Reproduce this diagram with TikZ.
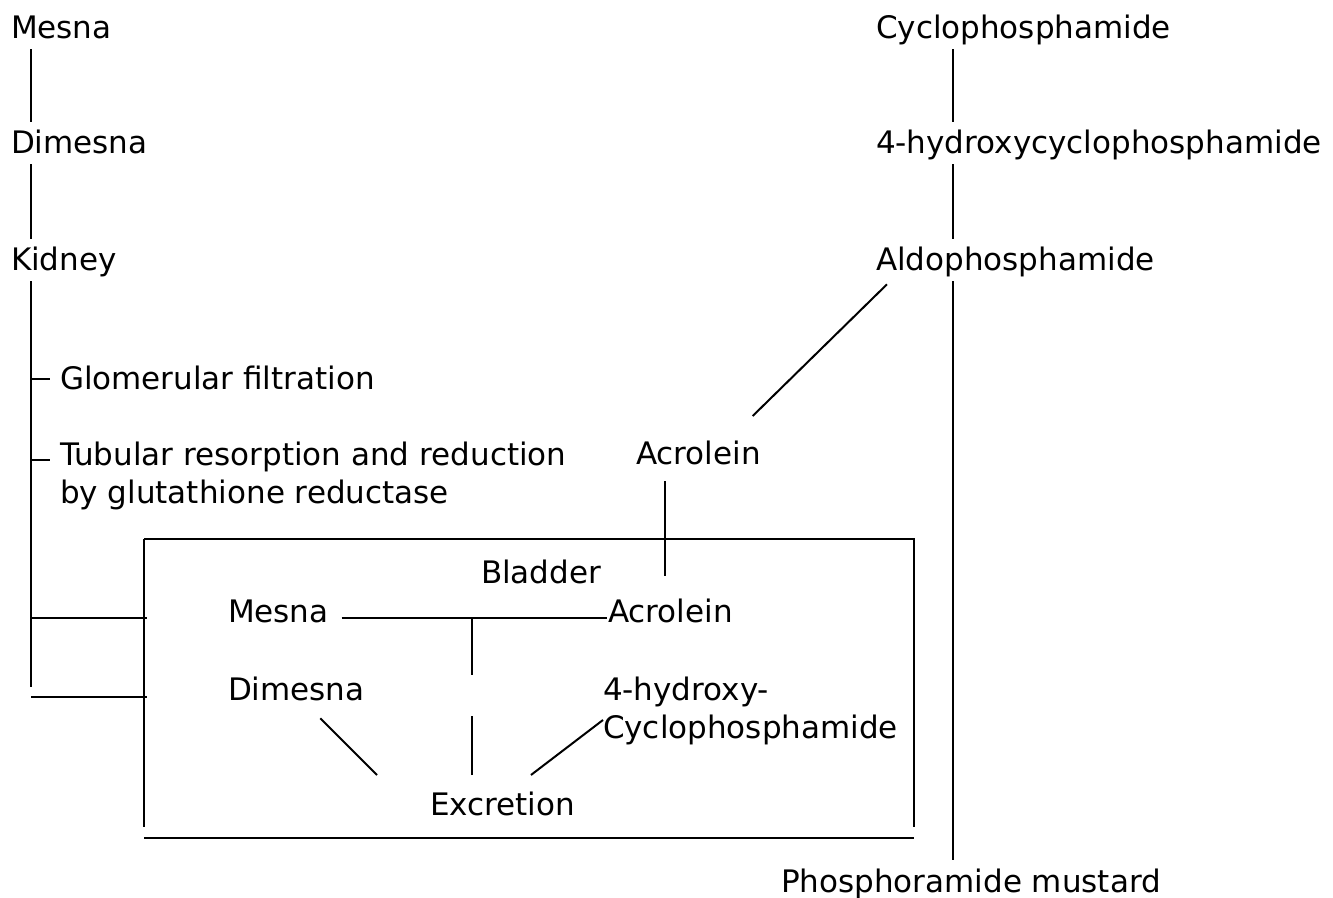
\documentclass[tikz,border=0pt]{standalone}
\usepackage{fontspec}
\setmainfont{DejaVu Sans}
\usetikzlibrary{calc}

\tikzset{
  lbl/.style={anchor=base west, inner sep=0pt, text height=15.5pt, text depth=4.65pt},
  lbltwo/.style={anchor=north west, inner sep=0pt, align=left},
}

\begin{document}
\begin{tikzpicture}[x=0.5pt, y=-0.5pt, line width=1pt, font=\fontsize{15.5}{19}\selectfont]
  \useasboundingbox (0,0) rectangle (1333,898);

  % mesna side
  \node[lbl] (mesna) at (10,39) {Mesna};
  \node[lbl] (dimesna) at (10,154) {Dimesna};
  \node[lbl] (kidney) at (10,271) {Kidney};
  \node[lbl] (glom) at (59,390) {Glomerular filtration};
  \node[lbltwo] (tubular) at (59,441) {Tubular resorption and reduction\\by glutathione reductase};

  % cyclophosphamide side
  \node[lbl] (cyclo) at (875,39) {Cyclophosphamide};
  \node[lbl] (hydroxy) at (875,154) {4-hydroxycyclophosphamide};
  \node[lbl] (aldo) at (875,271) {Aldophosphamide};
  \node[lbl] (acrolein) at (635,465) {Acrolein};
  \node[lbl] (phos) at (780,892) {Phosphoramide mustard};

  % bladder
  \node[lbl] (bladder) at (480,583) {Bladder};
  \node[lbl] (mesnab) at (227,622) {Mesna};
  \node[lbl] (acroleinb) at (607,622) {Acrolein};
  \node[lbl] (dimesnab) at (227,700) {Dimesna};
  \node[lbltwo] (hydroxyb) at (602,676) {4-hydroxy-\\Cyclophosphamide};
  \node[lbl] (excretion) at (429,815) {Excretion};

  \coordinate (lspine) at (31,0);
  \coordinate (rspine) at (953,0);
  \coordinate (lend) at (31,687);
  \coordinate (boxnw) at (144,539);
  \coordinate (boxse) at (914,827);
  \coordinate (boxbot) at (914,838);
  \coordinate (junc) at (472,618);
  \coordinate (tubtick) at ([shift={(-9,19)}]tubular.north west);
  \coordinate (dtick) at ([shift={(0,-3)}]dimesnab.base west);
  \coordinate (exctop) at ([shift={(0,-8)}]excretion.north);

  \draw (boxnw) -- (boxnw -| boxse) -- (boxse);
  \draw (boxnw) -- (boxnw |- boxse);
  \draw (boxnw |- boxbot) -- (boxbot);

  \draw (mesna.south -| lspine) -- (dimesna.north -| lspine);
  \draw (dimesna.south -| lspine) -- (kidney.north -| lspine);
  \draw (kidney.south -| lspine) -- (lend);
  \draw (glom.west -| lspine) -- ([xshift=-4.5pt]glom.west);
  \draw (lspine |- tubtick) -- (tubtick);
  \draw (lspine |- junc) -- ([xshift=1.5pt]boxnw |- junc);
  \draw (lspine |- dtick) -- ([xshift=1.5pt]boxnw |- dtick);

  \draw (cyclo.south -| rspine) -- (hydroxy.north -| rspine);
  \draw (hydroxy.south -| rspine) -- (aldo.north -| rspine);
  \draw (aldo.south -| rspine) -- (phos.north -| rspine);
  \draw ([shift={(12,3)}]aldo.south west) -- ([shift={(-9,-17)}]acrolein.north east);
  \draw ([shift={(30,6)}]acrolein.south west) -- ([shift={(58,-14)}]acroleinb.north west);

  \draw ([shift={(12,-4)}]mesnab.base east) -- (acroleinb.base west |- junc);
  \draw (junc) -- ++(0,57);
  \draw (exctop -| junc) -- ++(0,-59);
  \draw ([shift={(24,8)}]dimesnab.south) -- ([shift={(-52,-8)}]excretion.north west);
  \draw ([shift={(-45,-8)}]excretion.north east) -- ([shift={(1,44)}]hydroxyb.north west);
\end{tikzpicture}
\end{document}
